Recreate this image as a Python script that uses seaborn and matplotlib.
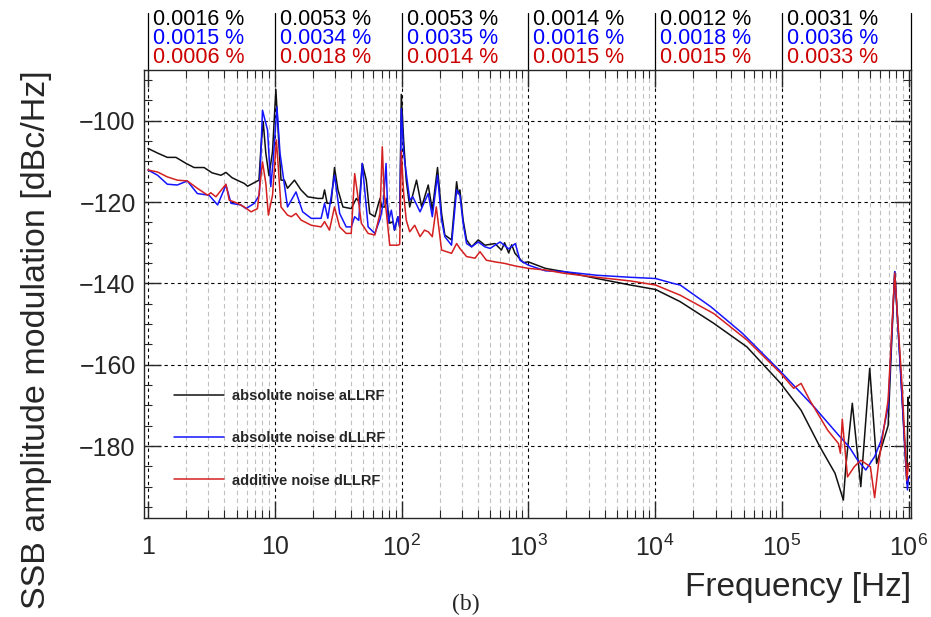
import numpy as np
import pandas as pd
import matplotlib
matplotlib.use("Agg")
import matplotlib.pyplot as plt
import matplotlib.transforms as mtransforms
from matplotlib.ticker import FixedLocator, FixedFormatter, MultipleLocator, LogLocator
import seaborn as sns

# === Données ===
black_f = [1.0, 1.2, 1.42, 1.66, 2.0, 2.31, 2.77, 3.2, 3.76, 4.12, 4.6, 5.2, 5.74, 6.1, 7.1, 7.5,
           7.8, 8.1, 8.5, 9.0, 9.6, 10.2, 10.7, 11.2, 11.9, 12.6, 14.3, 16.1, 18.2, 21.9, 23.9,
           24.7, 25.9, 27.8, 29.6, 31.5, 34.5, 40.1, 44.0, 46.5, 49.0, 52.7, 56.1, 61.6, 67.6,
           69.7, 73.8, 76.1, 80.7, 85.6, 88.1, 93.6, 96.7, 99.6, 104, 108.9, 116, 131.3, 144.1,
           162.4, 174.9, 192.3, 207, 219.6, 248, 272, 280, 288.7, 306, 326, 357, 403, 455, 546,
           614, 650, 700, 740, 785, 912, 1000, 1364, 1900, 3480, 6400, 10100, 15800, 29000,
           53000, 98000, 142000, 200000, 263000, 306000, 320000, 360000, 420000, 494000, 560000,
           690000, 730000, 778000, 860000, 950000, 970000, 990000, 1000000]
black_v = [-106.8, -108.0, -109.0, -109.0, -110.5, -111.5, -111.5, -112.8, -113.4, -112.7, -114.0,
           -114.8, -115.4, -116.1, -115.0, -114.6, -106.0, -100.2, -108.0, -113.5, -107.6, -92.3,
           -104.0, -114.6, -114.6, -116.6, -114.6, -117.0, -118.7, -119.1, -119.1, -117.0, -120.3,
           -120.3, -111.5, -117.0, -121.2, -121.6, -119.1, -120.0, -110.5, -114.6, -122.8, -123.6,
           -119.1, -121.2, -121.2, -119.1, -125.2, -124.8, -126.9, -123.6, -126.1, -93.5, -105.0,
           -114.6, -121.2, -114.6, -121.2, -115.8, -122.0, -111.5, -122.8, -128.1, -129.3, -115.0,
           -118.0, -117.0, -124.4, -129.3, -131.0, -129.3, -130.6, -130.2, -131.8, -130.0, -132.5,
           -130.5, -132.6, -134.9, -134.7, -136.3, -137.1, -138.8, -140.4, -141.5, -144.5, -149.8,
           -155.6, -164.6, -171.2, -180.2, -186.7, -193.3, -185.0, -169.5, -190.0, -160.9, -184.3,
           -175.0, -157.0, -137.1, -160.0, -184.0, -189.2, -168.0, -170.0]

blue_f = [1.0, 1.19, 1.42, 1.70, 2.04, 2.45, 3.03, 3.54, 4.12, 4.52, 5.42, 5.93, 6.9, 7.55, 8.0,
          8.77, 9.3, 9.7, 10.4, 11.0, 12.6, 14.7, 16.6, 19.4, 23.2, 24.7, 26.2, 29.6, 32.5, 36.6,
          40.1, 42.7, 46.0, 49.0, 54.5, 61.6, 68, 72, 75.5, 78.4, 83.1, 88.0, 93.6, 96.7, 99.6,
          104, 116, 122.7, 140, 162.4, 174.9, 192.3, 207, 219.6, 248, 272, 288.7, 306, 326, 357,
          403, 455, 500, 546, 600, 700, 790, 860, 1000, 1364, 1900, 3480, 6400, 10100, 13900,
          15800, 27700, 49000, 98000, 180000, 280000, 340000, 397000, 460000, 540000, 610000,
          690000, 728000, 778000, 860000, 950000, 980000, 1000000]
blue_v = [-112.1, -113.4, -115.6, -115.8, -114.8, -117.9, -118.3, -120.7, -115.8, -120.3, -120.7,
          -121.6, -120.3, -118.3, -97.4, -102.3, -116.2, -110.0, -96.6, -108.0, -121.2, -117.5,
          -122.4, -124.0, -124.0, -120.3, -124.0, -113.4, -122.8, -126.1, -126.1, -123.6, -124.5,
          -110.5, -126.1, -127.7, -124.0, -120.0, -110.5, -125.2, -122.0, -126.9, -123.6, -126.1,
          -97.0, -108.0, -119.5, -118.7, -122.4, -117.9, -123.6, -113.4, -124.4, -128.5, -130.6,
          -117.0, -118.3, -125.2, -130.2, -131.0, -129.8, -131.0, -131.4, -130.6, -129.8, -131.5,
          -130.2, -134.3, -135.5, -136.9, -137.1, -138.0, -138.5, -138.8, -140.0, -140.4, -145.8,
          -152.3, -161.7, -170.4, -177.3, -180.2, -183.5, -185.9, -182.6, -178.5, -170.4, -156.4,
          -137.1, -160.5, -184.3, -190.8, -187.6]

red_f = [1.0, 1.19, 1.42, 1.70, 2.04, 2.45, 2.95, 3.13, 3.43, 4.12, 4.37, 5.09, 5.74, 6.5, 7.3,
         8.0, 8.5, 8.9, 9.6, 10.3, 11.2, 12.6, 13.5, 14.7, 16.1, 19.4, 23.2, 24.7, 27.0, 29.6,
         32.5, 36.6, 40.1, 42.7, 45.3, 48.2, 54.5, 61.6, 67.6, 70.5, 73, 76.1, 80.7, 93.6, 96.7,
         99.6, 104, 108.9, 116, 127, 140, 151.7, 162.4, 174.9, 188, 207, 248, 272, 288.7, 326,
         380, 416, 467, 546, 655, 785, 1000, 1364, 1900, 3480, 6400, 10100, 15800, 29000, 53000,
         98000, 124000, 142000, 166000, 230000, 280000, 290000, 300000, 330000, 373000, 420000,
         500000, 540000, 580000, 690000, 778000, 890000, 970000, 1000000]
red_v = [-112.1, -112.6, -113.8, -114.6, -114.8, -116.6, -118.3, -117.7, -118.7, -115.6, -119.5,
         -120.3, -121.2, -122.4, -121.6, -110.1, -115.4, -123.2, -118.3, -104.7, -121.2, -123.2,
         -123.6, -122.8, -124.4, -125.7, -126.1, -124.8, -126.9, -121.2, -126.1, -127.7, -127.7,
         -113.0, -118.7, -125.2, -127.7, -128.1, -122.8, -106.4, -118.0, -122.8, -130.6, -130.6,
         -130.4, -107.5, -118.0, -124.4, -127.3, -125.7, -128.5, -126.9, -127.3, -128.5, -121.2,
         -131.8, -132.6, -130.2, -131.4, -133.4, -133.8, -132.2, -134.3, -134.7, -135.1, -135.7,
         -136.3, -136.7, -137.5, -138.5, -139.4, -140.4, -142.9, -147.4, -153.9, -162.1, -165.8,
         -164.6, -168.7, -176.1, -179.4, -181.8, -173.4, -187.6, -185.1, -183.5, -185.1, -192.7,
         -184.3, -168.7, -137.5, -165.4, -188.4, -184.3]

labels = ["absolute noise aLLRF", "absolute noise dLLRF", "additive noise dLLRF"]
colors = ["#111111", "#1414ff", "#d42020"]
text_colors = ["#000000", "#0000ff", "#cc0000"]

# pourcentages affichés au-dessus de chaque décade
decades = [1, 10, 100, 1e3, 1e4, 1e5]
black_pct = ["0.0016", "0.0053", "0.0053", "0.0014", "0.0012", "0.0031"]
blue_pct = ["0.0015", "0.0034", "0.0035", "0.0016", "0.0018", "0.0036"]
red_pct = ["0.0006", "0.0018", "0.0014", "0.0015", "0.0015", "0.0033"]

xticks = [1, 10, 100, 1e3, 1e4, 1e5, 1e6]
xticklabels = ["1", "10", "$10^{2}$", "$10^{3}$", "$10^{4}$", "$10^{5}$", "$10^{6}$"]
yticks = [-180, -160, -140, -120, -100]

# === Mise en forme ===
sns.set_style("ticks")
plt.rcParams["font.family"] = ["Liberation Sans", "DejaVu Sans"]
plt.rcParams["mathtext.fontset"] = "custom"
plt.rcParams["mathtext.rm"] = "Liberation Sans"
plt.rcParams["mathtext.it"] = "Liberation Sans:italic"
plt.rcParams["mathtext.bf"] = "Liberation Sans:bold"

df = pd.concat([
    pd.DataFrame({"f": black_f, "v": black_v, "serie": labels[0]}),
    pd.DataFrame({"f": blue_f, "v": blue_v, "serie": labels[1]}),
    pd.DataFrame({"f": red_f, "v": red_v, "serie": labels[2]}),
])

fig = plt.figure(figsize=(9.31, 6.17), dpi=100)
ax = fig.add_axes([0.1547, 0.1605, 0.8235, 0.7261])

sns.lineplot(data=df, x="f", y="v", hue="serie", palette=dict(zip(labels, colors)),
             estimator=None, sort=False, lw=1.1, ax=ax)

ax.set_xscale("log")
ax.set_xlim(0.93, 1.04e6)
ax.set_ylim(-197.7, -87.5)

ax.xaxis.set_major_locator(FixedLocator(xticks))
ax.xaxis.set_major_formatter(FixedFormatter(xticklabels))
ax.xaxis.set_minor_locator(LogLocator(base=10, subs=np.arange(2, 10), numticks=20))
ax.yaxis.set_major_locator(FixedLocator(yticks))
ax.yaxis.set_minor_locator(MultipleLocator(5))

ax.tick_params(which="both", direction="in", top=True, right=True, labelsize=18)
ax.tick_params(which="major", length=12, width=1)
ax.tick_params(which="minor", length=6, width=0.8)
ax.tick_params(axis="x", which="major", pad=12)
ax.tick_params(axis="y", which="major", pad=6)

ax.set_axisbelow(True)
ax.grid(True, which="major", color="black", ls=(0, (3, 3)), lw=0.8)
ax.grid(True, which="minor", axis="x", color="#c0c0c0", ls=(0, (4, 3)), lw=0.8)
for s in ax.spines.values():
    s.set_linewidth(1.0)

ax.set_xlabel("Frequency [Hz]", fontsize=24, loc="right")
ax.xaxis.set_label_coords(1.0, -0.12)
ax.set_ylabel("SSB amplitude modulation [dBc/Hz]", fontsize=24.5, loc="top")
ax.yaxis.set_label_coords(-0.12, 1.0)

leg = ax.legend(loc="upper left", bbox_to_anchor=(0.022, 0.318), frameon=False,
                prop={"weight": "bold", "size": 10.5}, handlelength=3.4,
                handletextpad=0.55, labelspacing=1.95)
for line in leg.get_lines():
    line.set_linewidth(1.1)

# colonnes de pourcentages au-dessus du graphe
trans = mtransforms.blended_transform_factory(ax.transData, ax.transAxes)
for x in decades + [1.04e6]:
    ax.plot([x, x], [1.0, 1.127], transform=trans, color="black", lw=0.9, clip_on=False)
for i, x in enumerate(decades):
    for pct, col, off in zip([black_pct[i], blue_pct[i], red_pct[i]], text_colors, [50, 31, 12]):
        ax.annotate(f"{pct} %", xy=(x, 1.0), xycoords=trans, xytext=(5, off),
                    textcoords="offset pixels", ha="left", va="center",
                    fontsize=15.5, color=col)

fig.text(0.5, 0.021, "(b)", ha="center", va="center", fontsize=17, family="Liberation Serif")

plt.savefig("out.png", dpi=100)
